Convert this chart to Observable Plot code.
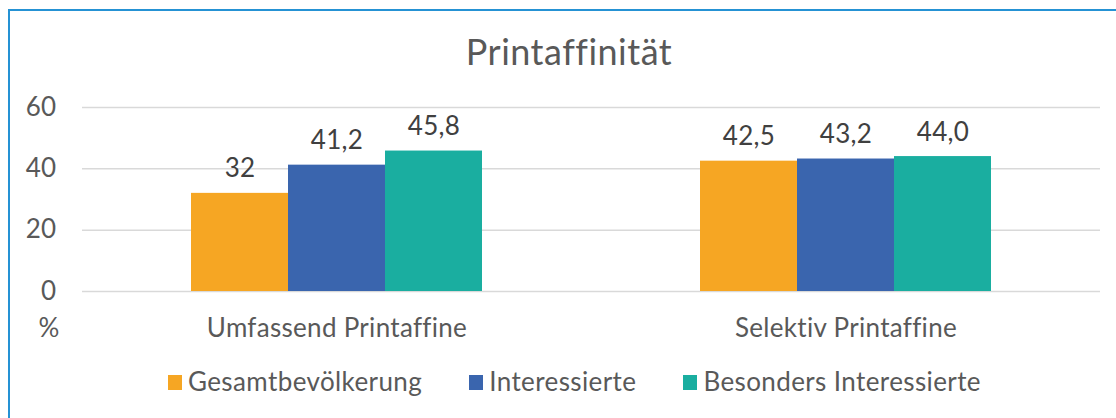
<!DOCTYPE html>
<html>
<head>
<meta charset="utf-8">
<script src="https://cdn.jsdelivr.net/npm/d3@7"></script>
<script src="https://cdn.jsdelivr.net/npm/@observablehq/plot@0.6"></script>
<style>
  html, body { margin: 0; padding: 0; background: #fff; }
  #wrap { position: relative; width: 1116px; height: 418px; overflow: hidden; background: #fff; font-family: Lato, "Open Sans", sans-serif; color: #595959; }
  #frame { position: absolute; left: 8px; top: 9px; width: 1200px; height: 500px; border: 2px solid #2592d4; box-sizing: border-box; }
  #title { position: absolute; left: 0; top: 33px; width: 1138px; text-align: center; font-size: 36px; line-height: 36px; letter-spacing: 0.5px; }
  #chart { position: absolute; left: 0; top: 0; }
  #pct { position: absolute; left: 29px; top: 314px; width: 40px; text-align: center; font-size: 26px; line-height: 26px; }
  #legend { position: absolute; left: 168px; top: 368px; display: flex; font-size: 26px; line-height: 26px; letter-spacing: 0.4px; white-space: nowrap; }
  .item { display: flex; align-items: center; gap: 6px; margin-right: 47px; }
  .sw { width: 14px; height: 15px; display: inline-block; position: relative; top: 1px; }
</style>
</head>
<body>
<div id="wrap">
  <div id="frame"></div>
  <div id="title"></div>
  <div id="chart"></div>
  <div id="pct">%</div>
  <div id="legend"></div>
</div>
<script>
const title = "Printaffinität";
const categories = ["Umfassend Printaffine", "Selektiv Printaffine"];
const series = ["Gesamtbevölkerung", "Interessierte", "Besonders Interessierte"];
const colors = ["#f6a623", "#3a65ae", "#1aaea0"];
const valuesUmfassend = [32, 41.2, 45.8];
const valuesSelektiv = [42.5, 43.2, 44.0];
const labelsUmfassend = ["32", "41,2", "45,8"];
const labelsSelektiv = ["42,5", "43,2", "44,0"];
const yTicks = [0, 20, 40, 60];
const yLabel = "%";

const rows = [];
[valuesUmfassend, valuesSelektiv].forEach((vals, ci) => {
  const labs = ci === 0 ? labelsUmfassend : labelsSelektiv;
  vals.forEach((v, si) => rows.push({cat: categories[ci], series: series[si], value: v, label: labs[si]}));
});

document.getElementById("title").textContent = title;
document.getElementById("pct").textContent = yLabel;

const chart = Plot.plot({
  width: 1116,
  height: 350,
  marginLeft: 82,
  marginRight: 16,
  marginTop: 107,
  marginBottom: 59,
  style: {fontFamily: "Lato, 'Open Sans', sans-serif", fontSize: "26px", color: "#595959", background: "transparent", overflow: "visible", letterSpacing: "0.3px"},
  fx: {domain: categories, padding: 0, axis: "bottom", tickSize: 0, tickPadding: 27, label: null},
  x: {domain: series, paddingInner: 0, paddingOuter: 1.097, axis: null},
  y: {domain: [0, 60], ticks: yTicks, tickSize: 0, tickPadding: 26, label: null, tickFormat: d => String(d)},
  color: {domain: series, range: colors},
  marks: [
    Plot.ruleY(yTicks, {stroke: "#d9d9d9", strokeWidth: 1.5}),
    Plot.barY(rows, {fx: "cat", x: "series", y: "value", fill: "series", inset: 0}),
    Plot.text(rows, {fx: "cat", x: "series", y: "value", text: "label", lineAnchor: "bottom", dy: -16, fill: "#404040", fontSize: 26})
  ]
});
document.getElementById("chart").appendChild(chart);

const legend = document.getElementById("legend");
series.forEach((s, i) => {
  const it = document.createElement("div");
  it.className = "item";
  const sw = document.createElement("span");
  sw.className = "sw";
  sw.style.background = colors[i];
  const t = document.createElement("span");
  t.textContent = s;
  it.appendChild(sw); it.appendChild(t);
  legend.appendChild(it);
});
</script>
</body>
</html>
